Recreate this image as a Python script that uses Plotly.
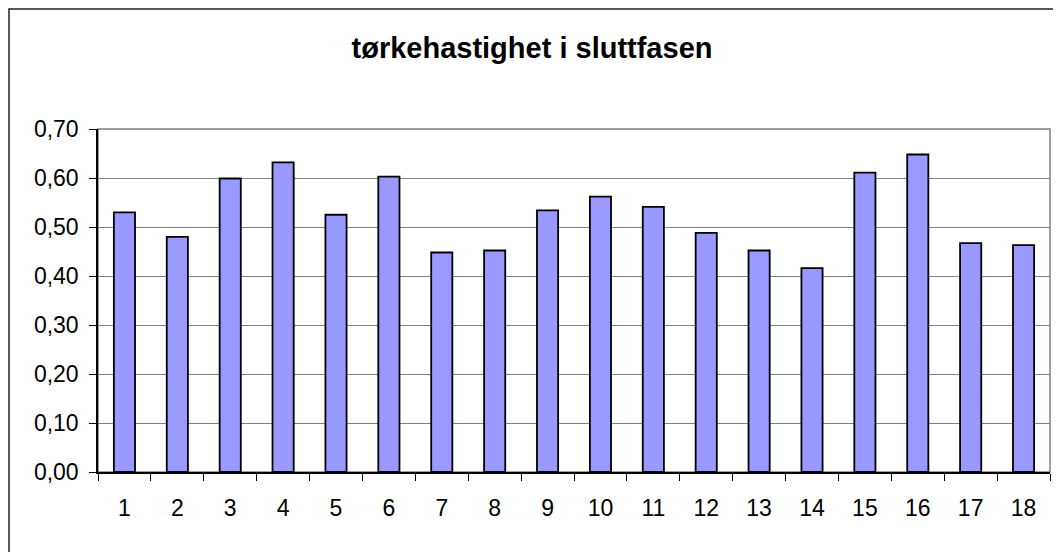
import plotly.graph_objects as go

categories = [str(i) for i in range(1, 19)]
values = [0.530, 0.480, 0.599, 0.632, 0.525, 0.603, 0.448, 0.452, 0.534,
          0.562, 0.541, 0.488, 0.452, 0.416, 0.611, 0.648, 0.467, 0.463]
title_text = "tørkehastighet i sluttfasen"
y_ticks = [0.0, 0.1, 0.2, 0.3, 0.4, 0.5, 0.6, 0.7]

# the page shows the figure offset by the body's 8px margin
OFF = 8
W, H = 1061, 552
L, R, T, B = 98 - OFF, 11 + OFF, 129 - OFF, 80 + OFF
pw, ph = W - L - R, H - T - B

fig = go.Figure(go.Bar(
    x=categories, y=values,
    marker=dict(color="#9999FF", line=dict(color="black", width=1.8)),
    width=0.4,
))

font = "Liberation Sans, Arial, sans-serif"
fig.update_layout(
    width=W, height=H,
    margin=dict(l=L, r=R, t=T, b=B),
    paper_bgcolor="white", plot_bgcolor="white",
    separators=", ",
    showlegend=False,
    title=dict(text="<b>" + title_text + "</b>", x=(532 - OFF) / W, xref="container", xanchor="center",
               y=1 - (48 - OFF) / H, yref="container", yanchor="middle",
               font=dict(family=font, size=29, color="black")),
    font=dict(family=font, size=23, color="black"),
    bargap=0.6,
)
fig.update_xaxes(
    type="category", showgrid=False,
    showline=True, linecolor="black", linewidth=1.5,
    ticks="outside", tickson="boundaries", ticklen=7, tickcolor="black", tickwidth=1,
    tickfont=dict(family=font, size=23, color="black"),
    ticklabelstandoff=15,
)
fig.update_yaxes(
    range=[0, 0.7], tickvals=y_ticks, tickformat=".2f",
    showgrid=True, gridcolor="#808080", gridwidth=1.3,
    showline=True, linecolor="black", linewidth=1.5,
    ticks="outside", ticklen=7, tickcolor="black", tickwidth=1,
    tickfont=dict(family=font, size=23, color="black"),
    ticklabelstandoff=6,
    zeroline=False,
)
# plot-area frame (gray)
fig.add_shape(type="rect", xref="paper", yref="paper", x0=0, x1=1, y0=0, y1=1,
              line=dict(color="#808080", width=1.5), layer="below")
# outer chart border (left/top visible; right/bottom run off the page)
fig.add_shape(type="rect", xref="paper", yref="paper",
              x0=(1 - L) / pw, x1=(W + 20 - L) / pw,
              y0=-(B + 20) / ph, y1=(H - 1 - B) / ph,
              line=dict(color="#222222", width=1.5), layer="above")

fig.write_html("out.html")
